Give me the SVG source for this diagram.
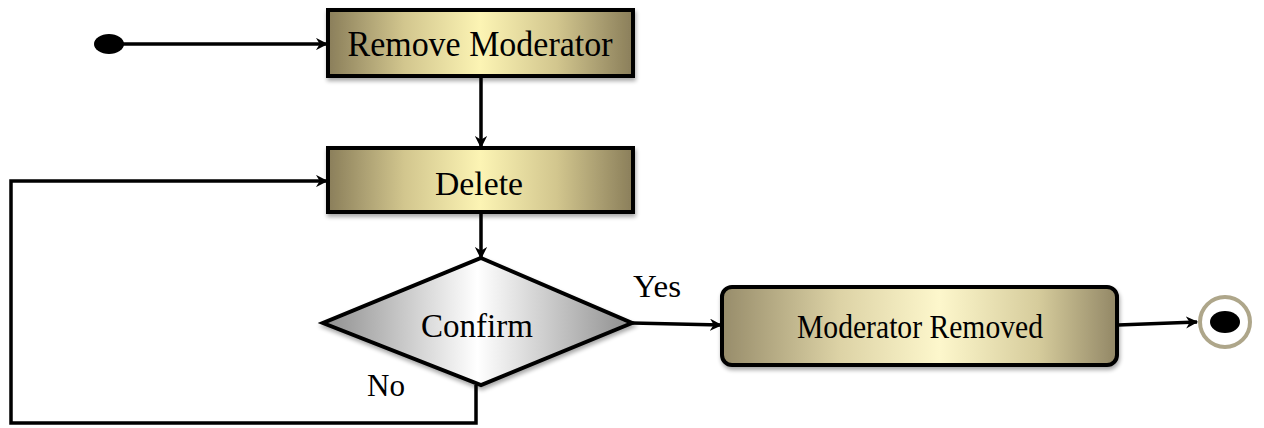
<svg xmlns="http://www.w3.org/2000/svg" width="1264" height="428" viewBox="0 0 1264 428">
  <defs>
    <linearGradient id="gold" x1="0" y1="0" x2="1" y2="0">
      <stop offset="0" stop-color="#8a7e5a"/>
      <stop offset="0.25" stop-color="#d2c68e"/>
      <stop offset="0.5" stop-color="#fcf4b4"/>
      <stop offset="0.75" stop-color="#d2c68e"/>
      <stop offset="1" stop-color="#8a7e5a"/>
    </linearGradient>
    <linearGradient id="goldSoft" x1="0" y1="0" x2="1" y2="0">
      <stop offset="0" stop-color="#978c6a"/>
      <stop offset="0.3" stop-color="#ddd3a6"/>
      <stop offset="0.55" stop-color="#fdf7cc"/>
      <stop offset="0.8" stop-color="#d6cc9c"/>
      <stop offset="1" stop-color="#928766"/>
    </linearGradient>
    <linearGradient id="silver" x1="0" y1="0" x2="1" y2="0">
      <stop offset="0" stop-color="#8e8e8e"/>
      <stop offset="0.5" stop-color="#ffffff"/>
      <stop offset="1" stop-color="#8e8e8e"/>
    </linearGradient>
    <filter id="shadow" x="-10%" y="-20%" width="120%" height="150%">
      <feGaussianBlur in="SourceAlpha" stdDeviation="2"/>
      <feOffset dx="1" dy="3"/>
      <feComponentTransfer><feFuncA type="linear" slope="0.35"/></feComponentTransfer>
      <feMerge><feMergeNode/><feMergeNode in="SourceGraphic"/></feMerge>
    </filter>
    <marker id="arrow" viewBox="0 0 10 10" refX="9" refY="5" markerWidth="3.5" markerHeight="3.5" orient="auto" markerUnits="strokeWidth">
      <path d="M0,0 L10,5 L0,10 L3,5 Z" fill="#000"/>
    </marker>
    <style>
      .box { stroke: #000; stroke-width: 4; filter: url(#shadow); }
      .lbl { font-family: "Liberation Serif", "Times New Roman", serif; fill: #000; text-anchor: middle; }
      .edge { fill: none; stroke: #000; stroke-width: 3.5; }
    </style>
  </defs>

  <!-- connectors -->
  <g id="connectors">
    <line class="edge" x1="120" y1="44" x2="327" y2="44" marker-end="url(#arrow)"/>
    <line class="edge" x1="481" y1="77" x2="481" y2="147" marker-end="url(#arrow)"/>
    <line class="edge" x1="481" y1="213" x2="481" y2="258" marker-end="url(#arrow)"/>
    <line class="edge" x1="632" y1="323" x2="721" y2="325" marker-end="url(#arrow)"/>
    <line class="edge" x1="1118" y1="325" x2="1197" y2="322" marker-end="url(#arrow)"/>
    <polyline class="edge" points="476,385 476,423 11,423 11,181 327,181" marker-end="url(#arrow)"/>
    <text class="lbl" x="657" y="297" font-size="32" textLength="48" lengthAdjust="spacingAndGlyphs">Yes</text>
    <text class="lbl" x="386" y="396" font-size="32" textLength="38" lengthAdjust="spacingAndGlyphs">No</text>
  </g>

  <!-- initial state -->
  <g id="start">
    <ellipse cx="109" cy="44" rx="15" ry="10" fill="#000"/>
  </g>

  <g id="remove-moderator">
    <rect class="box" x="328" y="10" width="305" height="66" fill="url(#gold)"/>
    <text class="lbl" x="480" y="56" font-size="35" textLength="265" lengthAdjust="spacingAndGlyphs">Remove Moderator</text>
  </g>

  <g id="delete">
    <rect class="box" x="328" y="148" width="305" height="64" fill="url(#gold)"/>
    <text class="lbl" x="479" y="195" font-size="34" textLength="88" lengthAdjust="spacingAndGlyphs">Delete</text>
  </g>

  <g id="confirm">
    <polygon class="box" points="481,258 632,323 481,385 323,323" fill="url(#silver)" stroke-linejoin="miter"/>
    <text class="lbl" x="477" y="337" font-size="34" textLength="112" lengthAdjust="spacingAndGlyphs">Confirm</text>
  </g>

  <g id="moderator-removed">
    <rect class="box" x="722" y="287" width="395" height="78" rx="10" fill="url(#goldSoft)"/>
    <text class="lbl" x="920" y="338" font-size="33" textLength="246" lengthAdjust="spacingAndGlyphs">Moderator Removed</text>
  </g>

  <!-- final state -->
  <g id="end">
    <circle cx="1225" cy="322" r="25" fill="#fff" stroke="#aea68a" stroke-width="4"/>
    <ellipse cx="1225" cy="322" rx="15" ry="11" fill="#000"/>
  </g>
</svg>
